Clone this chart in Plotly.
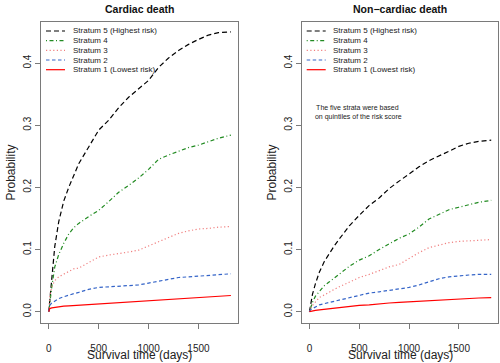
import plotly.graph_objects as go

# ---------------- data ----------------
days = [0, 10, 30, 60, 100, 150, 200, 250, 300, 400, 500, 600, 700, 800,
        900, 1000, 1100, 1200, 1300, 1400, 1500, 1600, 1700, 1825]

# Cardiac death – cumulative probability per stratum
card_s5 = [0, 0.020, 0.060, 0.105, 0.145, 0.178, 0.200, 0.220, 0.238, 0.265, 0.292, 0.308,
           0.328, 0.345, 0.358, 0.372, 0.393, 0.408, 0.420, 0.430, 0.438, 0.445, 0.449, 0.450]
card_s4 = [0, 0.015, 0.040, 0.072, 0.092, 0.110, 0.125, 0.135, 0.142, 0.153, 0.163, 0.177,
           0.192, 0.203, 0.215, 0.229, 0.245, 0.252, 0.258, 0.264, 0.268, 0.274, 0.279, 0.284]
card_s3 = [0, 0.025, 0.040, 0.050, 0.056, 0.060, 0.065, 0.069, 0.070, 0.079, 0.088, 0.091,
           0.093, 0.096, 0.099, 0.106, 0.113, 0.120, 0.126, 0.130, 0.133, 0.134, 0.136, 0.137]
card_s2 = [0, 0.010, 0.014, 0.017, 0.021, 0.024, 0.027, 0.029, 0.031, 0.036, 0.039, 0.040,
           0.041, 0.042, 0.043, 0.046, 0.049, 0.052, 0.055, 0.056, 0.057, 0.059, 0.060, 0.061]
card_s1 = [0, 0.005, 0.006, 0.007, 0.008, 0.009, 0.0095, 0.010, 0.011, 0.012, 0.013, 0.0135,
           0.014, 0.015, 0.017, 0.018, 0.019, 0.020, 0.021, 0.022, 0.023, 0.024, 0.025, 0.026]

# Non-cardiac death
nonc_s5 = [0, 0.012, 0.028, 0.045, 0.064, 0.081, 0.094, 0.106, 0.117, 0.138, 0.155, 0.171,
           0.183, 0.198, 0.210, 0.222, 0.233, 0.243, 0.250, 0.258, 0.266, 0.271, 0.274, 0.276]
nonc_s4 = [0, 0.006, 0.015, 0.025, 0.033, 0.042, 0.048, 0.054, 0.060, 0.073, 0.083, 0.090,
           0.100, 0.109, 0.118, 0.125, 0.136, 0.149, 0.157, 0.164, 0.168, 0.172, 0.176, 0.179]
nonc_s3 = [0, 0.005, 0.010, 0.016, 0.023, 0.027, 0.032, 0.036, 0.040, 0.047, 0.055, 0.060,
           0.066, 0.072, 0.076, 0.086, 0.095, 0.103, 0.107, 0.111, 0.113, 0.114, 0.115, 0.116]
nonc_s2 = [0, 0.003, 0.005, 0.008, 0.011, 0.013, 0.015, 0.017, 0.019, 0.023, 0.027, 0.030,
           0.032, 0.034, 0.036, 0.039, 0.043, 0.048, 0.053, 0.056, 0.058, 0.059, 0.060, 0.060]
nonc_s1 = [0, 0.0005, 0.001, 0.002, 0.003, 0.004, 0.005, 0.006, 0.007, 0.009, 0.010, 0.011,
           0.013, 0.014, 0.015, 0.016, 0.017, 0.018, 0.019, 0.020, 0.021, 0.021, 0.022, 0.0225]

strata_labels = ["Stratum 5 (Highest risk)", "Stratum 4", "Stratum 3", "Stratum 2",
                 "Stratum 1 (Lowest risk)"]
panel_titles = ["Cardiac death", "Non\u2212cardiac death"]
x_title = "Survival time (days)"
y_title = "Probability"
x_ticks = [0, 500, 1000, 1500]
y_ticks = [0.0, 0.1, 0.2, 0.3, 0.4]
note_text = "The five strata were based<br> on quintiles of the risk score"

# ---------------- styles / layout helpers ----------------
colors = ["#000000", "#228B22", "#F08080", "#3464C8", "#FF0000"]
dashes = ["5px,3px", "1px,2.5px,4px,2.5px", "1.2px,2.4px", "3.5px,2.5px", "solid"]
FONT = "Liberation Sans, Arial, sans-serif"
W, H = 500, 363


def px_x(px):
    return px / W


def px_y(py):
    return 1 - py / H


panels = [
    [card_s5, card_s4, card_s3, card_s2, card_s1],
    [nonc_s5, nonc_s4, nonc_s3, nonc_s2, nonc_s1],
]
box_left_px = [41, 301.7]
box_right_px = [238, 498.3]
box_top_px, box_bot_px = 22, 323

fig = go.Figure()
for p, series in enumerate(panels):
    xa = "x" if p == 0 else "x2"
    ya = "y" if p == 0 else "y2"
    for i, vals in enumerate(series):
        fig.add_trace(go.Scatter(
            x=days, y=vals, mode="lines", xaxis=xa, yaxis=ya,
            line=dict(color=colors[i], dash=dashes[i], width=1.2),
            showlegend=False, hoverinfo="skip"))

axis_common = dict(
    showgrid=False, zeroline=False, showline=True, mirror=True,
    linecolor="#7a7a7a", linewidth=1, ticks="outside", ticklen=5,
    tickcolor="#7a7a7a", tickwidth=1, automargin=False,
    tickfont=dict(family=FONT, size=10, color="#222"),
    title_font=dict(family=FONT, size=12, color="#222"),
)

ydom = [px_y(box_bot_px), px_y(box_top_px)]
for p in range(2):
    sfx = "" if p == 0 else "2"
    fig.update_layout(**{
        "xaxis" + sfx: dict(
            axis_common, domain=[px_x(box_left_px[p]), px_x(box_right_px[p])],
            range=[-78, 1896], tickvals=x_ticks, ticklabelstandoff=11,
            anchor="y" + sfx),
        "yaxis" + sfx: dict(
            axis_common, domain=ydom, range=[-0.0182, 0.466],
            tickvals=y_ticks, ticktext=[f"{v:.1f}" for v in y_ticks],
            tickangle=-90, anchor="x" + sfx,
            title=dict(text=y_title, standoff=3.5)),
    })

annotations = []
shapes = []
for p in range(2):
    cx = (box_left_px[p] + box_right_px[p]) / 2
    annotations.append(dict(
        text="<b>" + panel_titles[p] + "</b>", xref="paper", yref="paper",
        x=px_x(cx), y=px_y(9.5), xanchor="center", yanchor="middle",
        showarrow=False, font=dict(family=FONT, size=10.5, color="#111")))
    # x-axis title placed under each panel
    annotations.append(dict(
        text=x_title, xref="paper", yref="paper",
        x=px_x(cx), y=px_y(354.5), xanchor="center", yanchor="middle",
        showarrow=False, font=dict(family=FONT, size=12, color="#222")))
    # in-plot legend
    row_y = [31, 40.7, 50.3, 60, 69.7]
    for i, lab in enumerate(strata_labels):
        yy = px_y(row_y[i])
        shapes.append(dict(type="line", xref="paper", yref="paper",
                           x0=px_x(box_left_px[p] + 5), x1=px_x(box_left_px[p] + 24),
                           y0=yy, y1=yy,
                           line=dict(color=colors[i], dash=dashes[i], width=1.2)))
        annotations.append(dict(
            text=lab, xref="paper", yref="paper",
            x=px_x(box_left_px[p] + 29.5), y=yy, xanchor="left", yanchor="middle",
            showarrow=False, font=dict(family=FONT, size=8, color="#222")))

annotations.append(dict(
    text=note_text, xref="x2", yref="y2", x=480, y=0.321,
    xanchor="center", yanchor="middle", align="center", showarrow=False,
    font=dict(family=FONT, size=7, color="#222")))

fig.update_layout(
    width=W, height=H, margin=dict(l=0, r=0, t=0, b=0),
    paper_bgcolor="white", plot_bgcolor="white",
    annotations=annotations, shapes=shapes, showlegend=False,
    font=dict(family=FONT),
)

# remove the browser's default 8px body margin so the figure fills the window
fig.write_html("out.html", config={"displayModeBar": False},
               post_script="document.body.style.margin='0';document.body.style.overflow='hidden';")
